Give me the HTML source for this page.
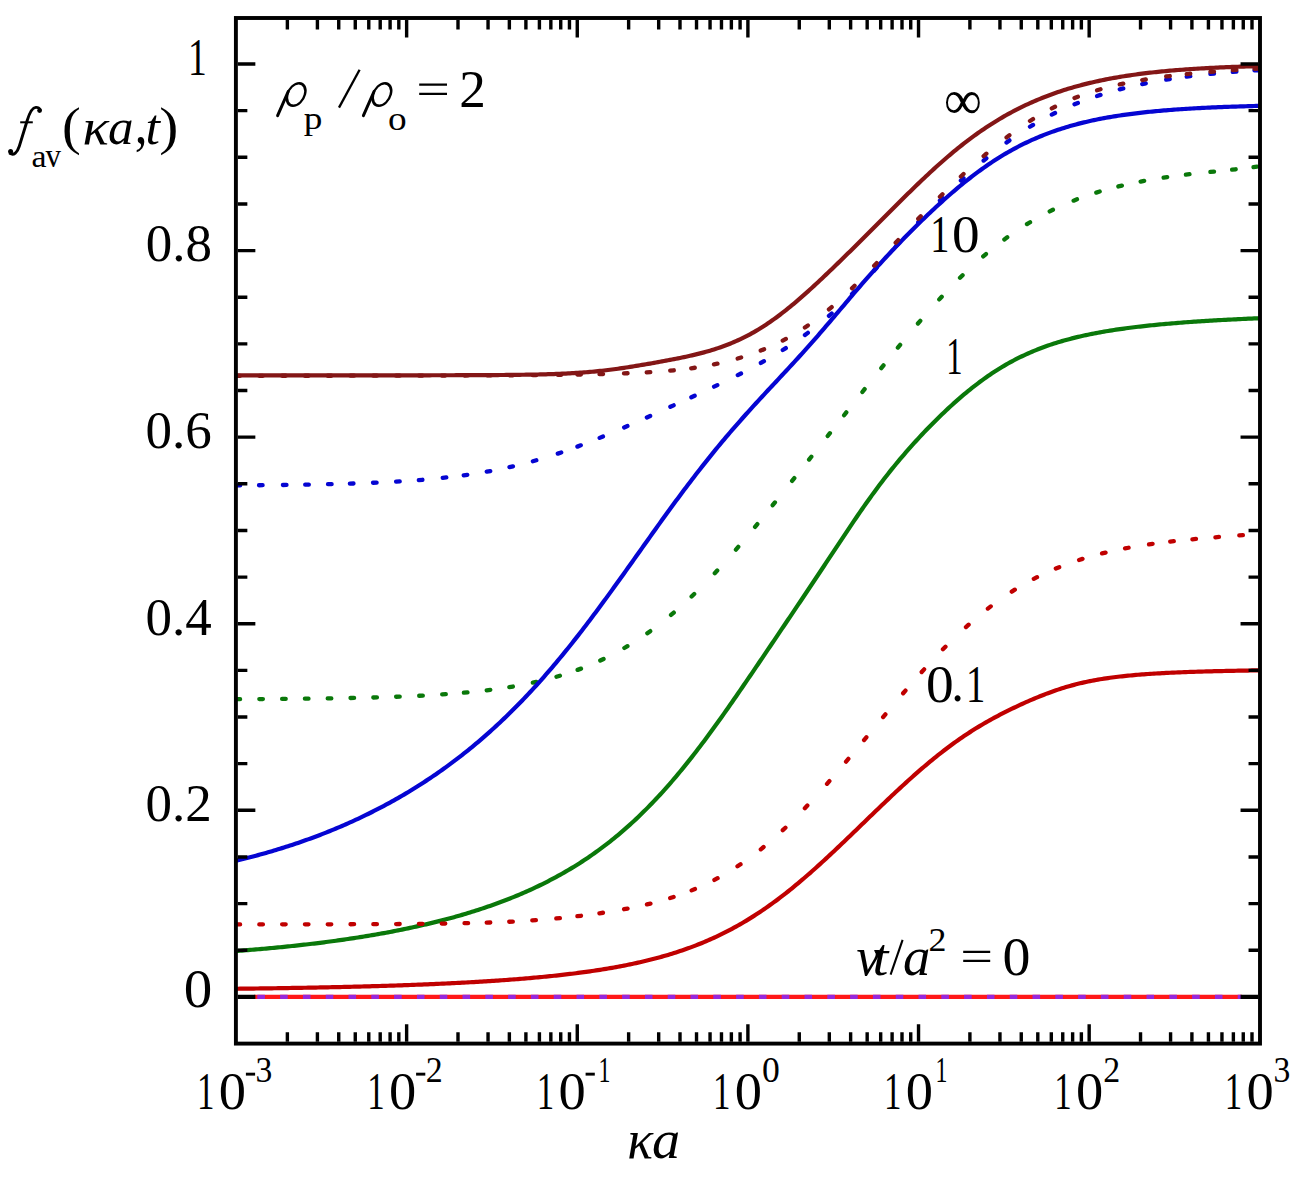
<!DOCTYPE html>
<html><head><meta charset="utf-8"><style>
html,body{margin:0;padding:0;background:#fff;width:1298px;height:1182px;overflow:hidden}
svg{display:block}
text{font-family:"Liberation Serif",serif}
</style></head><body>
<svg width="1298" height="1182" viewBox="0 0 1298 1182">
<rect width="1298" height="1182" fill="#fff"/>
<path d="M236.0 951.05 L238.0 950.90 L240.0 950.74 L242.0 950.59 L244.0 950.43 L246.0 950.27 L248.0 950.11 L250.0 949.95 L252.0 949.78 L254.0 949.62 L256.0 949.45 L258.0 949.28 L260.0 949.10 L262.0 948.93 L264.0 948.75 L266.0 948.57 L268.0 948.39 L270.0 948.20 L272.0 948.02 L274.0 947.83 L276.0 947.64 L278.0 947.45 L280.0 947.25 L282.0 947.05 L284.0 946.85 L286.0 946.65 L288.0 946.44 L290.0 946.24 L292.0 946.03 L294.0 945.81 L296.0 945.60 L298.0 945.38 L300.0 945.16 L302.0 944.94 L304.0 944.71 L306.0 944.48 L308.0 944.25 L310.0 944.02 L312.0 943.78 L314.0 943.54 L316.0 943.30 L318.0 943.05 L320.0 942.80 L322.0 942.55 L324.0 942.30 L326.0 942.04 L328.0 941.78 L330.0 941.52 L332.0 941.25 L334.0 940.98 L336.0 940.71 L338.0 940.43 L340.0 940.15 L342.0 939.87 L344.0 939.58 L346.0 939.29 L348.0 939.00 L350.0 938.70 L352.0 938.40 L354.0 938.09 L356.0 937.79 L358.0 937.47 L360.0 937.16 L362.0 936.84 L364.0 936.52 L366.0 936.19 L368.0 935.86 L370.0 935.53 L372.0 935.19 L374.0 934.84 L376.0 934.50 L378.0 934.15 L380.0 933.79 L382.0 933.43 L384.0 933.07 L386.0 932.70 L388.0 932.33 L390.0 931.95 L392.0 931.57 L394.0 931.18 L396.0 930.79 L398.0 930.40 L400.0 930.00 L402.0 929.59 L404.0 929.18 L406.0 928.77 L408.0 928.35 L410.0 927.92 L412.0 927.49 L414.0 927.06 L416.0 926.62 L418.0 926.17 L420.0 925.72 L422.0 925.27 L424.0 924.80 L426.0 924.34 L428.0 923.86 L430.0 923.38 L432.0 922.90 L434.0 922.41 L436.0 921.91 L438.0 921.41 L440.0 920.90 L442.0 920.39 L444.0 919.86 L446.0 919.34 L448.0 918.80 L450.0 918.26 L452.0 917.71 L454.0 917.16 L456.0 916.60 L458.0 916.03 L460.0 915.46 L462.0 914.87 L464.0 914.28 L466.0 913.69 L468.0 913.08 L470.0 912.47 L472.0 911.85 L474.0 911.22 L476.0 910.59 L478.0 909.94 L480.0 909.29 L482.0 908.63 L484.0 907.96 L486.0 907.29 L488.0 906.60 L490.0 905.91 L492.0 905.21 L494.0 904.49 L496.0 903.77 L498.0 903.04 L500.0 902.30 L502.0 901.55 L504.0 900.79 L506.0 900.02 L508.0 899.24 L510.0 898.45 L512.0 897.65 L514.0 896.84 L516.0 896.02 L518.0 895.19 L520.0 894.35 L522.0 893.49 L524.0 892.62 L526.0 891.75 L528.0 890.86 L530.0 889.96 L532.0 889.04 L534.0 888.12 L536.0 887.18 L538.0 886.23 L540.0 885.26 L542.0 884.28 L544.0 883.29 L546.0 882.29 L548.0 881.27 L550.0 880.24 L552.0 879.19 L554.0 878.13 L556.0 877.05 L558.0 875.96 L560.0 874.86 L562.0 873.73 L564.0 872.60 L566.0 871.44 L568.0 870.27 L570.0 869.09 L572.0 867.89 L574.0 866.67 L576.0 865.43 L578.0 864.18 L580.0 862.90 L582.0 861.62 L584.0 860.31 L586.0 858.98 L588.0 857.64 L590.0 856.27 L592.0 854.89 L594.0 853.49 L596.0 852.06 L598.0 850.62 L600.0 849.16 L602.0 847.67 L604.0 846.17 L606.0 844.65 L608.0 843.10 L610.0 841.53 L612.0 839.94 L614.0 838.33 L616.0 836.70 L618.0 835.04 L620.0 833.36 L622.0 831.66 L624.0 829.93 L626.0 828.18 L628.0 826.41 L630.0 824.62 L632.0 822.80 L634.0 820.95 L636.0 819.09 L638.0 817.20 L640.0 815.28 L642.0 813.34 L644.0 811.37 L646.0 809.38 L648.0 807.37 L650.0 805.33 L652.0 803.26 L654.0 801.17 L656.0 799.06 L658.0 796.92 L660.0 794.76 L662.0 792.57 L664.0 790.35 L666.0 788.12 L668.0 785.85 L670.0 783.56 L672.0 781.25 L674.0 778.92 L676.0 776.56 L678.0 774.17 L680.0 771.76 L682.0 769.33 L684.0 766.88 L686.0 764.40 L688.0 761.91 L690.0 759.38 L692.0 756.84 L694.0 754.28 L696.0 751.69 L698.0 749.09 L700.0 746.46 L702.0 743.82 L704.0 741.16 L706.0 738.47 L708.0 735.77 L710.0 733.06 L712.0 730.32 L714.0 727.57 L716.0 724.81 L718.0 722.03 L720.0 719.23 L722.0 716.42 L724.0 713.60 L726.0 710.77 L728.0 707.92 L730.0 705.06 L732.0 702.19 L734.0 699.32 L736.0 696.43 L738.0 693.53 L740.0 690.63 L742.0 687.72 L744.0 684.80 L746.0 681.87 L748.0 678.94 L750.0 676.01 L752.0 673.07 L754.0 670.12 L756.0 667.18 L758.0 664.23 L760.0 661.27 L762.0 658.32 L764.0 655.36 L766.0 652.40 L768.0 649.44 L770.0 646.48 L772.0 643.52 L774.0 640.55 L776.0 637.59 L778.0 634.62 L780.0 631.66 L782.0 628.69 L784.0 625.73 L786.0 622.76 L788.0 619.79 L790.0 616.82 L792.0 613.85 L794.0 610.88 L796.0 607.91 L798.0 604.93 L800.0 601.96 L802.0 598.98 L804.0 595.99 L806.0 593.01 L808.0 590.02 L810.0 587.03 L812.0 584.03 L814.0 581.03 L816.0 578.03 L818.0 575.02 L820.0 572.01 L822.0 569.00 L824.0 565.98 L826.0 562.96 L828.0 559.94 L830.0 556.92 L832.0 553.89 L834.0 550.87 L836.0 547.85 L838.0 544.83 L840.0 541.81 L842.0 538.80 L844.0 535.79 L846.0 532.79 L848.0 529.80 L850.0 526.82 L852.0 523.85 L854.0 520.89 L856.0 517.95 L858.0 515.03 L860.0 512.12 L862.0 509.23 L864.0 506.37 L866.0 503.53 L868.0 500.71 L870.0 497.91 L872.0 495.14 L874.0 492.39 L876.0 489.68 L878.0 486.98 L880.0 484.32 L882.0 481.69 L884.0 479.08 L886.0 476.50 L888.0 473.95 L890.0 471.43 L892.0 468.93 L894.0 466.46 L896.0 464.02 L898.0 461.61 L900.0 459.22 L902.0 456.86 L904.0 454.52 L906.0 452.20 L908.0 449.92 L910.0 447.65 L912.0 445.41 L914.0 443.19 L916.0 440.99 L918.0 438.81 L920.0 436.66 L922.0 434.53 L924.0 432.41 L926.0 430.32 L928.0 428.25 L930.0 426.20 L932.0 424.17 L934.0 422.16 L936.0 420.16 L938.0 418.19 L940.0 416.24 L942.0 414.31 L944.0 412.40 L946.0 410.51 L948.0 408.64 L950.0 406.79 L952.0 404.97 L954.0 403.16 L956.0 401.38 L958.0 399.62 L960.0 397.88 L962.0 396.16 L964.0 394.47 L966.0 392.80 L968.0 391.16 L970.0 389.53 L972.0 387.94 L974.0 386.37 L976.0 384.82 L978.0 383.30 L980.0 381.80 L982.0 380.33 L984.0 378.88 L986.0 377.46 L988.0 376.07 L990.0 374.70 L992.0 373.35 L994.0 372.04 L996.0 370.74 L998.0 369.48 L1000.0 368.24 L1002.0 367.02 L1004.0 365.83 L1006.0 364.67 L1008.0 363.53 L1010.0 362.42 L1012.0 361.33 L1014.0 360.26 L1016.0 359.22 L1018.0 358.21 L1020.0 357.21 L1022.0 356.24 L1024.0 355.30 L1026.0 354.37 L1028.0 353.47 L1030.0 352.59 L1032.0 351.73 L1034.0 350.89 L1036.0 350.07 L1038.0 349.27 L1040.0 348.49 L1042.0 347.74 L1044.0 347.00 L1046.0 346.27 L1048.0 345.57 L1050.0 344.88 L1052.0 344.22 L1054.0 343.56 L1056.0 342.93 L1058.0 342.31 L1060.0 341.71 L1062.0 341.12 L1064.0 340.54 L1066.0 339.98 L1068.0 339.44 L1070.0 338.91 L1072.0 338.39 L1074.0 337.88 L1076.0 337.39 L1078.0 336.91 L1080.0 336.44 L1082.0 335.99 L1084.0 335.54 L1086.0 335.11 L1088.0 334.68 L1090.0 334.27 L1092.0 333.86 L1094.0 333.47 L1096.0 333.09 L1098.0 332.71 L1100.0 332.34 L1102.0 331.99 L1104.0 331.64 L1106.0 331.29 L1108.0 330.96 L1110.0 330.64 L1112.0 330.32 L1114.0 330.01 L1116.0 329.70 L1118.0 329.41 L1120.0 329.12 L1122.0 328.83 L1124.0 328.56 L1126.0 328.28 L1128.0 328.02 L1130.0 327.76 L1132.0 327.50 L1134.0 327.26 L1136.0 327.01 L1138.0 326.77 L1140.0 326.54 L1142.0 326.31 L1144.0 326.09 L1146.0 325.87 L1148.0 325.65 L1150.0 325.44 L1152.0 325.24 L1154.0 325.04 L1156.0 324.84 L1158.0 324.64 L1160.0 324.45 L1162.0 324.27 L1164.0 324.08 L1166.0 323.90 L1168.0 323.73 L1170.0 323.56 L1172.0 323.39 L1174.0 323.22 L1176.0 323.06 L1178.0 322.90 L1180.0 322.74 L1182.0 322.58 L1184.0 322.43 L1186.0 322.28 L1188.0 322.14 L1190.0 321.99 L1192.0 321.85 L1194.0 321.71 L1196.0 321.58 L1198.0 321.44 L1200.0 321.31 L1202.0 321.18 L1204.0 321.05 L1206.0 320.93 L1208.0 320.81 L1210.0 320.68 L1212.0 320.56 L1214.0 320.45 L1216.0 320.33 L1218.0 320.22 L1220.0 320.11 L1222.0 320.00 L1224.0 319.89 L1226.0 319.78 L1228.0 319.68 L1230.0 319.58 L1232.0 319.48 L1234.0 319.38 L1236.0 319.28 L1238.0 319.18 L1240.0 319.09 L1242.0 318.99 L1244.0 318.90 L1246.0 318.81 L1248.0 318.72 L1250.0 318.63 L1252.0 318.54 L1254.0 318.46 L1256.0 318.37 L1258.0 318.29 L1259.8 318.22" stroke="#0a780a" stroke-width="4.2" fill="none" stroke-linejoin="round"/>
<path d="M236.0 988.75 L238.0 988.73 L240.0 988.70 L242.0 988.68 L244.0 988.65 L246.0 988.63 L248.0 988.61 L250.0 988.58 L252.0 988.56 L254.0 988.53 L256.0 988.50 L258.0 988.48 L260.0 988.45 L262.0 988.42 L264.0 988.40 L266.0 988.37 L268.0 988.34 L270.0 988.31 L272.0 988.28 L274.0 988.26 L276.0 988.23 L278.0 988.20 L280.0 988.17 L282.0 988.13 L284.0 988.10 L286.0 988.07 L288.0 988.04 L290.0 988.01 L292.0 987.97 L294.0 987.94 L296.0 987.91 L298.0 987.87 L300.0 987.84 L302.0 987.80 L304.0 987.77 L306.0 987.73 L308.0 987.69 L310.0 987.66 L312.0 987.62 L314.0 987.58 L316.0 987.54 L318.0 987.50 L320.0 987.46 L322.0 987.42 L324.0 987.38 L326.0 987.34 L328.0 987.30 L330.0 987.26 L332.0 987.21 L334.0 987.17 L336.0 987.13 L338.0 987.08 L340.0 987.04 L342.0 986.99 L344.0 986.94 L346.0 986.90 L348.0 986.85 L350.0 986.80 L352.0 986.75 L354.0 986.70 L356.0 986.65 L358.0 986.60 L360.0 986.55 L362.0 986.49 L364.0 986.44 L366.0 986.39 L368.0 986.33 L370.0 986.28 L372.0 986.22 L374.0 986.16 L376.0 986.11 L378.0 986.05 L380.0 985.99 L382.0 985.93 L384.0 985.87 L386.0 985.80 L388.0 985.74 L390.0 985.68 L392.0 985.61 L394.0 985.55 L396.0 985.48 L398.0 985.41 L400.0 985.35 L402.0 985.28 L404.0 985.21 L406.0 985.14 L408.0 985.07 L410.0 984.99 L412.0 984.92 L414.0 984.84 L416.0 984.77 L418.0 984.69 L420.0 984.61 L422.0 984.53 L424.0 984.45 L426.0 984.37 L428.0 984.29 L430.0 984.21 L432.0 984.12 L434.0 984.04 L436.0 983.95 L438.0 983.86 L440.0 983.77 L442.0 983.68 L444.0 983.59 L446.0 983.49 L448.0 983.40 L450.0 983.30 L452.0 983.21 L454.0 983.11 L456.0 983.01 L458.0 982.91 L460.0 982.80 L462.0 982.70 L464.0 982.59 L466.0 982.49 L468.0 982.38 L470.0 982.27 L472.0 982.15 L474.0 982.04 L476.0 981.92 L478.0 981.81 L480.0 981.69 L482.0 981.57 L484.0 981.45 L486.0 981.32 L488.0 981.20 L490.0 981.07 L492.0 980.94 L494.0 980.81 L496.0 980.67 L498.0 980.54 L500.0 980.40 L502.0 980.26 L504.0 980.12 L506.0 979.97 L508.0 979.83 L510.0 979.68 L512.0 979.53 L514.0 979.38 L516.0 979.22 L518.0 979.06 L520.0 978.90 L522.0 978.74 L524.0 978.58 L526.0 978.41 L528.0 978.24 L530.0 978.06 L532.0 977.89 L534.0 977.71 L536.0 977.53 L538.0 977.34 L540.0 977.16 L542.0 976.97 L544.0 976.77 L546.0 976.58 L548.0 976.38 L550.0 976.17 L552.0 975.97 L554.0 975.76 L556.0 975.55 L558.0 975.33 L560.0 975.11 L562.0 974.88 L564.0 974.66 L566.0 974.42 L568.0 974.19 L570.0 973.95 L572.0 973.71 L574.0 973.46 L576.0 973.21 L578.0 972.95 L580.0 972.69 L582.0 972.42 L584.0 972.15 L586.0 971.88 L588.0 971.60 L590.0 971.31 L592.0 971.02 L594.0 970.73 L596.0 970.43 L598.0 970.12 L600.0 969.81 L602.0 969.49 L604.0 969.17 L606.0 968.84 L608.0 968.50 L610.0 968.16 L612.0 967.82 L614.0 967.46 L616.0 967.10 L618.0 966.74 L620.0 966.36 L622.0 965.98 L624.0 965.59 L626.0 965.20 L628.0 964.79 L630.0 964.38 L632.0 963.97 L634.0 963.54 L636.0 963.11 L638.0 962.66 L640.0 962.21 L642.0 961.75 L644.0 961.28 L646.0 960.81 L648.0 960.32 L650.0 959.82 L652.0 959.32 L654.0 958.80 L656.0 958.28 L658.0 957.74 L660.0 957.19 L662.0 956.64 L664.0 956.07 L666.0 955.49 L668.0 954.90 L670.0 954.30 L672.0 953.69 L674.0 953.06 L676.0 952.43 L678.0 951.78 L680.0 951.11 L682.0 950.44 L684.0 949.75 L686.0 949.05 L688.0 948.34 L690.0 947.61 L692.0 946.87 L694.0 946.11 L696.0 945.34 L698.0 944.56 L700.0 943.76 L702.0 942.94 L704.0 942.11 L706.0 941.27 L708.0 940.41 L710.0 939.53 L712.0 938.64 L714.0 937.73 L716.0 936.81 L718.0 935.86 L720.0 934.91 L722.0 933.93 L724.0 932.94 L726.0 931.93 L728.0 930.90 L730.0 929.85 L732.0 928.79 L734.0 927.71 L736.0 926.61 L738.0 925.49 L740.0 924.35 L742.0 923.20 L744.0 922.03 L746.0 920.83 L748.0 919.62 L750.0 918.39 L752.0 917.14 L754.0 915.88 L756.0 914.59 L758.0 913.28 L760.0 911.96 L762.0 910.62 L764.0 909.26 L766.0 907.87 L768.0 906.48 L770.0 905.06 L772.0 903.62 L774.0 902.17 L776.0 900.69 L778.0 899.20 L780.0 897.69 L782.0 896.16 L784.0 894.62 L786.0 893.06 L788.0 891.48 L790.0 889.88 L792.0 888.27 L794.0 886.64 L796.0 884.99 L798.0 883.33 L800.0 881.65 L802.0 879.96 L804.0 878.25 L806.0 876.53 L808.0 874.79 L810.0 873.05 L812.0 871.28 L814.0 869.51 L816.0 867.72 L818.0 865.92 L820.0 864.11 L822.0 862.29 L824.0 860.46 L826.0 858.62 L828.0 856.77 L830.0 854.91 L832.0 853.04 L834.0 851.16 L836.0 849.28 L838.0 847.39 L840.0 845.49 L842.0 843.58 L844.0 841.68 L846.0 839.76 L848.0 837.84 L850.0 835.92 L852.0 834.00 L854.0 832.07 L856.0 830.14 L858.0 828.21 L860.0 826.27 L862.0 824.34 L864.0 822.41 L866.0 820.47 L868.0 818.54 L870.0 816.61 L872.0 814.68 L874.0 812.75 L876.0 810.83 L878.0 808.90 L880.0 806.99 L882.0 805.07 L884.0 803.16 L886.0 801.26 L888.0 799.36 L890.0 797.47 L892.0 795.59 L894.0 793.71 L896.0 791.84 L898.0 789.98 L900.0 788.13 L902.0 786.28 L904.0 784.45 L906.0 782.62 L908.0 780.81 L910.0 779.01 L912.0 777.21 L914.0 775.44 L916.0 773.67 L918.0 771.91 L920.0 770.17 L922.0 768.45 L924.0 766.74 L926.0 765.04 L928.0 763.36 L930.0 761.69 L932.0 760.04 L934.0 758.41 L936.0 756.79 L938.0 755.19 L940.0 753.61 L942.0 752.04 L944.0 750.50 L946.0 748.97 L948.0 747.46 L950.0 745.97 L952.0 744.50 L954.0 743.05 L956.0 741.61 L958.0 740.20 L960.0 738.81 L962.0 737.43 L964.0 736.08 L966.0 734.74 L968.0 733.42 L970.0 732.12 L972.0 730.84 L974.0 729.58 L976.0 728.34 L978.0 727.12 L980.0 725.91 L982.0 724.72 L984.0 723.55 L986.0 722.39 L988.0 721.25 L990.0 720.13 L992.0 719.02 L994.0 717.93 L996.0 716.85 L998.0 715.78 L1000.0 714.73 L1002.0 713.70 L1004.0 712.67 L1006.0 711.66 L1008.0 710.66 L1010.0 709.68 L1012.0 708.70 L1014.0 707.74 L1016.0 706.79 L1018.0 705.84 L1020.0 704.92 L1022.0 704.00 L1024.0 703.09 L1026.0 702.19 L1028.0 701.31 L1030.0 700.44 L1032.0 699.58 L1034.0 698.73 L1036.0 697.89 L1038.0 697.07 L1040.0 696.26 L1042.0 695.46 L1044.0 694.68 L1046.0 693.91 L1048.0 693.16 L1050.0 692.42 L1052.0 691.70 L1054.0 690.99 L1056.0 690.30 L1058.0 689.63 L1060.0 688.97 L1062.0 688.33 L1064.0 687.71 L1066.0 687.10 L1068.0 686.51 L1070.0 685.94 L1072.0 685.39 L1074.0 684.85 L1076.0 684.33 L1078.0 683.82 L1080.0 683.33 L1082.0 682.86 L1084.0 682.41 L1086.0 681.97 L1088.0 681.54 L1090.0 681.13 L1092.0 680.74 L1094.0 680.36 L1096.0 679.99 L1098.0 679.64 L1100.0 679.30 L1102.0 678.97 L1104.0 678.66 L1106.0 678.35 L1108.0 678.06 L1110.0 677.78 L1112.0 677.51 L1114.0 677.25 L1116.0 677.00 L1118.0 676.76 L1120.0 676.52 L1122.0 676.30 L1124.0 676.08 L1126.0 675.88 L1128.0 675.68 L1130.0 675.48 L1132.0 675.30 L1134.0 675.12 L1136.0 674.94 L1138.0 674.78 L1140.0 674.62 L1142.0 674.46 L1144.0 674.31 L1146.0 674.17 L1148.0 674.03 L1150.0 673.89 L1152.0 673.76 L1154.0 673.63 L1156.0 673.51 L1158.0 673.39 L1160.0 673.28 L1162.0 673.17 L1164.0 673.06 L1166.0 672.96 L1168.0 672.86 L1170.0 672.76 L1172.0 672.67 L1174.0 672.58 L1176.0 672.49 L1178.0 672.40 L1180.0 672.32 L1182.0 672.24 L1184.0 672.16 L1186.0 672.09 L1188.0 672.01 L1190.0 671.94 L1192.0 671.87 L1194.0 671.80 L1196.0 671.74 L1198.0 671.67 L1200.0 671.61 L1202.0 671.55 L1204.0 671.49 L1206.0 671.44 L1208.0 671.38 L1210.0 671.33 L1212.0 671.28 L1214.0 671.22 L1216.0 671.17 L1218.0 671.13 L1220.0 671.08 L1222.0 671.03 L1224.0 670.99 L1226.0 670.95 L1228.0 670.90 L1230.0 670.86 L1232.0 670.82 L1234.0 670.78 L1236.0 670.74 L1238.0 670.71 L1240.0 670.67 L1242.0 670.63 L1244.0 670.60 L1246.0 670.57 L1248.0 670.53 L1250.0 670.50 L1252.0 670.47 L1254.0 670.44 L1256.0 670.41 L1258.0 670.38 L1259.8 670.35" stroke="#c00000" stroke-width="4.2" fill="none" stroke-linejoin="round"/>
<path d="M236.50 924.40 L240.10 924.40 M259.30 924.39 L262.90 924.38 M282.10 924.36 L285.70 924.36 M304.90 924.33 L308.50 924.33 M327.70 924.29 L331.30 924.29 M350.50 924.23 L354.10 924.22 M373.30 924.15 L376.90 924.13 M396.10 924.03 L399.70 924.00 M418.90 923.85 L422.50 923.81 M441.70 923.58 L445.30 923.53 M464.50 923.19 L468.10 923.12 M486.70 922.62 L490.30 922.51 M509.20 921.76 L512.80 921.58 M532.30 920.43 L535.90 920.18 M556.31 918.46 L559.89 918.11 M577.41 916.19 L580.99 915.76 M599.42 913.27 L602.98 912.75 M624.03 909.23 L627.57 908.57 M646.95 904.42 L650.45 903.57 M670.19 898.05 L673.61 896.95 M691.64 890.38 L694.96 889.01 M714.41 879.88 L717.59 878.19 M737.50 866.30 L740.50 864.31 M760.80 849.30 L763.60 847.03 M782.79 830.16 L785.41 827.69 M804.86 808.17 L807.34 805.56 M827.02 783.83 L829.38 781.12 M846.04 761.64 L848.36 758.89 M864.05 740.04 L866.35 737.26 M883.10 717.04 L885.40 714.28 M903.13 693.26 L905.47 690.53 M921.69 672.06 L924.11 669.38 M942.94 649.32 L945.46 646.75 M965.96 627.08 L968.64 624.67 M987.87 608.60 L990.73 606.40 M1011.78 591.62 L1014.82 589.69 M1033.80 578.82 L1037.00 577.18 M1055.83 568.51 L1059.17 567.14 M1079.08 559.95 L1082.52 558.86 M1102.05 553.42 L1105.55 552.57 M1125.03 548.41 L1128.57 547.75 M1149.02 544.40 L1152.58 543.89 M1170.21 541.63 L1173.79 541.22 M1192.41 539.29 L1195.99 538.95 M1215.41 537.27 L1218.99 536.98 M1239.30 535.43 L1242.90 535.17" stroke="#c00000" stroke-width="4.3" fill="none" stroke-linecap="round"/>
<path d="M236.50 699.17 L240.10 699.15 M259.30 699.06 L262.90 699.04 M282.10 698.90 L285.70 698.87 M304.90 698.69 L308.50 698.65 M327.70 698.41 L331.30 698.36 M350.50 698.02 L354.10 697.95 M373.30 697.49 L376.90 697.39 M396.10 696.77 L399.70 696.63 M419.20 695.77 L422.80 695.59 M442.20 694.42 L445.80 694.17 M463.91 692.71 L467.49 692.38 M486.71 690.31 L490.29 689.86 M509.32 687.11 L512.88 686.52 M532.84 682.68 L536.36 681.90 M556.47 676.75 L559.93 675.74 M577.61 669.88 L580.99 668.63 M600.27 660.54 L603.53 659.01 M624.35 648.00 L627.45 646.17 M647.34 633.22 L650.26 631.13 M671.03 614.94 L673.77 612.61 M691.60 596.55 L694.20 594.06 M714.77 573.17 L717.23 570.54 M735.93 549.62 L738.27 546.89 M755.06 526.89 L757.34 524.11 M772.67 505.21 L774.93 502.41 M792.08 480.94 L794.32 478.13 M809.08 459.54 L811.32 456.72 M827.68 436.02 L829.92 433.19 M844.09 415.21 L846.31 412.38 M862.38 391.97 L864.62 389.14 M881.28 368.14 L883.52 365.33 M897.86 347.58 L900.14 344.79 M917.93 323.51 L920.27 320.78 M939.28 299.37 L941.72 296.72 M960.01 277.83 L962.59 275.30 M983.23 256.35 L985.97 254.01 M1004.35 239.43 L1007.25 237.31 M1026.96 224.09 L1030.04 222.22 M1049.69 211.39 L1052.91 209.80 M1073.62 200.65 L1076.98 199.34 M1096.28 192.62 L1099.72 191.56 M1118.35 186.45 L1121.85 185.60 M1140.63 181.56 L1144.17 180.89 M1163.62 177.64 L1167.18 177.11 M1185.91 174.63 L1189.49 174.20 M1210.41 171.92 L1213.99 171.55 M1232.11 169.67 L1235.69 169.28 M1253.52 167.08 L1257.08 166.56" stroke="#0a780a" stroke-width="4.3" fill="none" stroke-linecap="round"/>
<path d="M236.0 860.79 L238.0 860.31 L240.0 859.82 L242.0 859.32 L244.0 858.82 L246.0 858.31 L248.0 857.80 L250.0 857.28 L252.0 856.75 L254.0 856.22 L256.0 855.68 L258.0 855.14 L260.0 854.59 L262.0 854.03 L264.0 853.47 L266.0 852.90 L268.0 852.33 L270.0 851.75 L272.0 851.16 L274.0 850.56 L276.0 849.96 L278.0 849.35 L280.0 848.74 L282.0 848.12 L284.0 847.49 L286.0 846.85 L288.0 846.21 L290.0 845.56 L292.0 844.90 L294.0 844.24 L296.0 843.57 L298.0 842.89 L300.0 842.20 L302.0 841.51 L304.0 840.81 L306.0 840.10 L308.0 839.38 L310.0 838.66 L312.0 837.93 L314.0 837.19 L316.0 836.44 L318.0 835.68 L320.0 834.92 L322.0 834.15 L324.0 833.37 L326.0 832.58 L328.0 831.78 L330.0 830.98 L332.0 830.16 L334.0 829.34 L336.0 828.51 L338.0 827.67 L340.0 826.82 L342.0 825.97 L344.0 825.10 L346.0 824.23 L348.0 823.34 L350.0 822.45 L352.0 821.55 L354.0 820.64 L356.0 819.71 L358.0 818.78 L360.0 817.84 L362.0 816.89 L364.0 815.93 L366.0 814.97 L368.0 813.99 L370.0 813.00 L372.0 812.00 L374.0 810.99 L376.0 809.97 L378.0 808.94 L380.0 807.90 L382.0 806.85 L384.0 805.79 L386.0 804.72 L388.0 803.63 L390.0 802.54 L392.0 801.44 L394.0 800.32 L396.0 799.19 L398.0 798.06 L400.0 796.91 L402.0 795.74 L404.0 794.57 L406.0 793.39 L408.0 792.19 L410.0 790.99 L412.0 789.77 L414.0 788.53 L416.0 787.29 L418.0 786.03 L420.0 784.76 L422.0 783.48 L424.0 782.19 L426.0 780.88 L428.0 779.56 L430.0 778.23 L432.0 776.88 L434.0 775.53 L436.0 774.15 L438.0 772.77 L440.0 771.37 L442.0 769.95 L444.0 768.53 L446.0 767.09 L448.0 765.63 L450.0 764.16 L452.0 762.68 L454.0 761.18 L456.0 759.67 L458.0 758.14 L460.0 756.60 L462.0 755.04 L464.0 753.46 L466.0 751.88 L468.0 750.27 L470.0 748.65 L472.0 747.02 L474.0 745.37 L476.0 743.70 L478.0 742.02 L480.0 740.32 L482.0 738.60 L484.0 736.87 L486.0 735.12 L488.0 733.36 L490.0 731.58 L492.0 729.78 L494.0 727.96 L496.0 726.13 L498.0 724.28 L500.0 722.41 L502.0 720.52 L504.0 718.62 L506.0 716.70 L508.0 714.76 L510.0 712.81 L512.0 710.83 L514.0 708.84 L516.0 706.83 L518.0 704.80 L520.0 702.76 L522.0 700.69 L524.0 698.61 L526.0 696.51 L528.0 694.39 L530.0 692.25 L532.0 690.09 L534.0 687.92 L536.0 685.73 L538.0 683.52 L540.0 681.29 L542.0 679.04 L544.0 676.77 L546.0 674.49 L548.0 672.19 L550.0 669.87 L552.0 667.53 L554.0 665.17 L556.0 662.80 L558.0 660.41 L560.0 658.00 L562.0 655.57 L564.0 653.13 L566.0 650.67 L568.0 648.20 L570.0 645.70 L572.0 643.20 L574.0 640.67 L576.0 638.13 L578.0 635.58 L580.0 633.00 L582.0 630.42 L584.0 627.82 L586.0 625.21 L588.0 622.58 L590.0 619.94 L592.0 617.28 L594.0 614.61 L596.0 611.94 L598.0 609.25 L600.0 606.54 L602.0 603.83 L604.0 601.11 L606.0 598.37 L608.0 595.63 L610.0 592.88 L612.0 590.12 L614.0 587.35 L616.0 584.58 L618.0 581.79 L620.0 579.01 L622.0 576.21 L624.0 573.41 L626.0 570.61 L628.0 567.80 L630.0 564.99 L632.0 562.18 L634.0 559.37 L636.0 556.55 L638.0 553.73 L640.0 550.92 L642.0 548.10 L644.0 545.28 L646.0 542.47 L648.0 539.66 L650.0 536.85 L652.0 534.04 L654.0 531.24 L656.0 528.45 L658.0 525.65 L660.0 522.87 L662.0 520.09 L664.0 517.32 L666.0 514.55 L668.0 511.80 L670.0 509.05 L672.0 506.31 L674.0 503.58 L676.0 500.86 L678.0 498.16 L680.0 495.46 L682.0 492.77 L684.0 490.10 L686.0 487.44 L688.0 484.79 L690.0 482.16 L692.0 479.53 L694.0 476.93 L696.0 474.33 L698.0 471.75 L700.0 469.18 L702.0 466.63 L704.0 464.10 L706.0 461.58 L708.0 459.07 L710.0 456.58 L712.0 454.10 L714.0 451.64 L716.0 449.20 L718.0 446.77 L720.0 444.35 L722.0 441.95 L724.0 439.57 L726.0 437.20 L728.0 434.85 L730.0 432.51 L732.0 430.18 L734.0 427.87 L736.0 425.57 L738.0 423.29 L740.0 421.01 L742.0 418.76 L744.0 416.51 L746.0 414.27 L748.0 412.05 L750.0 409.84 L752.0 407.63 L754.0 405.44 L756.0 403.25 L758.0 401.08 L760.0 398.91 L762.0 396.74 L764.0 394.59 L766.0 392.43 L768.0 390.28 L770.0 388.14 L772.0 386.00 L774.0 383.86 L776.0 381.72 L778.0 379.58 L780.0 377.44 L782.0 375.29 L784.0 373.15 L786.0 371.00 L788.0 368.84 L790.0 366.68 L792.0 364.52 L794.0 362.34 L796.0 360.16 L798.0 357.97 L800.0 355.77 L802.0 353.56 L804.0 351.34 L806.0 349.11 L808.0 346.87 L810.0 344.62 L812.0 342.36 L814.0 340.09 L816.0 337.80 L818.0 335.51 L820.0 333.20 L822.0 330.89 L824.0 328.56 L826.0 326.23 L828.0 323.89 L830.0 321.54 L832.0 319.19 L834.0 316.83 L836.0 314.47 L838.0 312.11 L840.0 309.74 L842.0 307.38 L844.0 305.02 L846.0 302.66 L848.0 300.30 L850.0 297.94 L852.0 295.60 L854.0 293.26 L856.0 290.92 L858.0 288.60 L860.0 286.28 L862.0 283.98 L864.0 281.68 L866.0 279.40 L868.0 277.13 L870.0 274.86 L872.0 272.62 L874.0 270.38 L876.0 268.16 L878.0 265.94 L880.0 263.74 L882.0 261.56 L884.0 259.38 L886.0 257.22 L888.0 255.07 L890.0 252.94 L892.0 250.81 L894.0 248.70 L896.0 246.60 L898.0 244.51 L900.0 242.43 L902.0 240.37 L904.0 238.31 L906.0 236.27 L908.0 234.24 L910.0 232.22 L912.0 230.21 L914.0 228.21 L916.0 226.23 L918.0 224.26 L920.0 222.30 L922.0 220.35 L924.0 218.41 L926.0 216.49 L928.0 214.58 L930.0 212.68 L932.0 210.79 L934.0 208.92 L936.0 207.07 L938.0 205.22 L940.0 203.40 L942.0 201.58 L944.0 199.79 L946.0 198.01 L948.0 196.24 L950.0 194.49 L952.0 192.76 L954.0 191.04 L956.0 189.35 L958.0 187.67 L960.0 186.00 L962.0 184.36 L964.0 182.74 L966.0 181.13 L968.0 179.55 L970.0 177.98 L972.0 176.43 L974.0 174.91 L976.0 173.40 L978.0 171.92 L980.0 170.46 L982.0 169.01 L984.0 167.59 L986.0 166.19 L988.0 164.82 L990.0 163.46 L992.0 162.12 L994.0 160.81 L996.0 159.52 L998.0 158.25 L1000.0 157.00 L1002.0 155.78 L1004.0 154.57 L1006.0 153.39 L1008.0 152.23 L1010.0 151.09 L1012.0 149.97 L1014.0 148.88 L1016.0 147.80 L1018.0 146.75 L1020.0 145.72 L1022.0 144.71 L1024.0 143.72 L1026.0 142.75 L1028.0 141.80 L1030.0 140.87 L1032.0 139.96 L1034.0 139.07 L1036.0 138.20 L1038.0 137.34 L1040.0 136.51 L1042.0 135.70 L1044.0 134.90 L1046.0 134.12 L1048.0 133.36 L1050.0 132.62 L1052.0 131.89 L1054.0 131.19 L1056.0 130.49 L1058.0 129.82 L1060.0 129.16 L1062.0 128.52 L1064.0 127.89 L1066.0 127.28 L1068.0 126.68 L1070.0 126.10 L1072.0 125.53 L1074.0 124.97 L1076.0 124.43 L1078.0 123.90 L1080.0 123.39 L1082.0 122.89 L1084.0 122.40 L1086.0 121.92 L1088.0 121.46 L1090.0 121.01 L1092.0 120.57 L1094.0 120.14 L1096.0 119.72 L1098.0 119.31 L1100.0 118.91 L1102.0 118.53 L1104.0 118.15 L1106.0 117.78 L1108.0 117.43 L1110.0 117.08 L1112.0 116.74 L1114.0 116.41 L1116.0 116.09 L1118.0 115.77 L1120.0 115.47 L1122.0 115.17 L1124.0 114.88 L1126.0 114.60 L1128.0 114.33 L1130.0 114.06 L1132.0 113.80 L1134.0 113.55 L1136.0 113.30 L1138.0 113.06 L1140.0 112.83 L1142.0 112.60 L1144.0 112.38 L1146.0 112.16 L1148.0 111.95 L1150.0 111.75 L1152.0 111.55 L1154.0 111.35 L1156.0 111.16 L1158.0 110.98 L1160.0 110.80 L1162.0 110.63 L1164.0 110.46 L1166.0 110.29 L1168.0 110.13 L1170.0 109.97 L1172.0 109.82 L1174.0 109.67 L1176.0 109.53 L1178.0 109.39 L1180.0 109.25 L1182.0 109.12 L1184.0 108.99 L1186.0 108.86 L1188.0 108.73 L1190.0 108.61 L1192.0 108.50 L1194.0 108.38 L1196.0 108.27 L1198.0 108.16 L1200.0 108.05 L1202.0 107.95 L1204.0 107.85 L1206.0 107.75 L1208.0 107.66 L1210.0 107.56 L1212.0 107.47 L1214.0 107.38 L1216.0 107.30 L1218.0 107.21 L1220.0 107.13 L1222.0 107.05 L1224.0 106.97 L1226.0 106.90 L1228.0 106.82 L1230.0 106.75 L1232.0 106.68 L1234.0 106.61 L1236.0 106.54 L1238.0 106.48 L1240.0 106.41 L1242.0 106.35 L1244.0 106.29 L1246.0 106.23 L1248.0 106.17 L1250.0 106.11 L1252.0 106.06 L1254.0 106.01 L1256.0 105.95 L1258.0 105.90 L1259.8 105.86" stroke="#0505d2" stroke-width="4.2" fill="none" stroke-linejoin="round"/>
<path d="M236.0 375.36 L238.0 375.36 L240.0 375.36 L242.0 375.36 L244.0 375.36 L246.0 375.36 L248.0 375.36 L250.0 375.36 L252.0 375.36 L254.0 375.36 L256.0 375.36 L258.0 375.36 L260.0 375.36 L262.0 375.36 L264.0 375.36 L266.0 375.35 L268.0 375.35 L270.0 375.35 L272.0 375.35 L274.0 375.35 L276.0 375.35 L278.0 375.35 L280.0 375.35 L282.0 375.35 L284.0 375.35 L286.0 375.35 L288.0 375.35 L290.0 375.35 L292.0 375.35 L294.0 375.35 L296.0 375.35 L298.0 375.35 L300.0 375.35 L302.0 375.35 L304.0 375.35 L306.0 375.35 L308.0 375.35 L310.0 375.35 L312.0 375.35 L314.0 375.35 L316.0 375.35 L318.0 375.35 L320.0 375.35 L322.0 375.35 L324.0 375.35 L326.0 375.35 L328.0 375.35 L330.0 375.34 L332.0 375.34 L334.0 375.34 L336.0 375.34 L338.0 375.34 L340.0 375.34 L342.0 375.34 L344.0 375.34 L346.0 375.34 L348.0 375.34 L350.0 375.34 L352.0 375.34 L354.0 375.34 L356.0 375.34 L358.0 375.34 L360.0 375.34 L362.0 375.33 L364.0 375.33 L366.0 375.33 L368.0 375.33 L370.0 375.33 L372.0 375.33 L374.0 375.33 L376.0 375.33 L378.0 375.33 L380.0 375.33 L382.0 375.32 L384.0 375.32 L386.0 375.32 L388.0 375.32 L390.0 375.32 L392.0 375.32 L394.0 375.32 L396.0 375.31 L398.0 375.31 L400.0 375.31 L402.0 375.31 L404.0 375.31 L406.0 375.31 L408.0 375.30 L410.0 375.30 L412.0 375.30 L414.0 375.30 L416.0 375.30 L418.0 375.29 L420.0 375.29 L422.0 375.29 L424.0 375.29 L426.0 375.28 L428.0 375.28 L430.0 375.28 L432.0 375.27 L434.0 375.27 L436.0 375.27 L438.0 375.26 L440.0 375.26 L442.0 375.26 L444.0 375.25 L446.0 375.25 L448.0 375.24 L450.0 375.24 L452.0 375.23 L454.0 375.23 L456.0 375.22 L458.0 375.22 L460.0 375.21 L462.0 375.21 L464.0 375.20 L466.0 375.19 L468.0 375.19 L470.0 375.18 L472.0 375.17 L474.0 375.16 L476.0 375.16 L478.0 375.15 L480.0 375.14 L482.0 375.13 L484.0 375.12 L486.0 375.11 L488.0 375.10 L490.0 375.08 L492.0 375.07 L494.0 375.06 L496.0 375.04 L498.0 375.03 L500.0 375.01 L502.0 375.00 L504.0 374.98 L506.0 374.96 L508.0 374.94 L510.0 374.92 L512.0 374.90 L514.0 374.88 L516.0 374.85 L518.0 374.83 L520.0 374.80 L522.0 374.77 L524.0 374.74 L526.0 374.71 L528.0 374.68 L530.0 374.64 L532.0 374.61 L534.0 374.57 L536.0 374.53 L538.0 374.48 L540.0 374.44 L542.0 374.39 L544.0 374.34 L546.0 374.28 L548.0 374.22 L550.0 374.16 L552.0 374.10 L554.0 374.03 L556.0 373.96 L558.0 373.88 L560.0 373.80 L562.0 373.71 L564.0 373.62 L566.0 373.53 L568.0 373.43 L570.0 373.32 L572.0 373.21 L574.0 373.10 L576.0 372.97 L578.0 372.84 L580.0 372.71 L582.0 372.56 L584.0 372.42 L586.0 372.26 L588.0 372.10 L590.0 371.92 L592.0 371.75 L594.0 371.56 L596.0 371.36 L598.0 371.16 L600.0 370.95 L602.0 370.73 L604.0 370.51 L606.0 370.27 L608.0 370.03 L610.0 369.78 L612.0 369.52 L614.0 369.26 L616.0 368.99 L618.0 368.71 L620.0 368.42 L622.0 368.13 L624.0 367.83 L626.0 367.53 L628.0 367.22 L630.0 366.91 L632.0 366.59 L634.0 366.27 L636.0 365.94 L638.0 365.61 L640.0 365.27 L642.0 364.94 L644.0 364.60 L646.0 364.25 L648.0 363.91 L650.0 363.56 L652.0 363.21 L654.0 362.85 L656.0 362.50 L658.0 362.14 L660.0 361.78 L662.0 361.41 L664.0 361.05 L666.0 360.68 L668.0 360.30 L670.0 359.93 L672.0 359.54 L674.0 359.16 L676.0 358.76 L678.0 358.36 L680.0 357.96 L682.0 357.55 L684.0 357.13 L686.0 356.70 L688.0 356.26 L690.0 355.81 L692.0 355.35 L694.0 354.89 L696.0 354.41 L698.0 353.91 L700.0 353.41 L702.0 352.89 L704.0 352.35 L706.0 351.80 L708.0 351.23 L710.0 350.65 L712.0 350.05 L714.0 349.43 L716.0 348.79 L718.0 348.13 L720.0 347.44 L722.0 346.74 L724.0 346.02 L726.0 345.27 L728.0 344.50 L730.0 343.70 L732.0 342.88 L734.0 342.03 L736.0 341.16 L738.0 340.26 L740.0 339.33 L742.0 338.38 L744.0 337.40 L746.0 336.39 L748.0 335.35 L750.0 334.28 L752.0 333.18 L754.0 332.05 L756.0 330.89 L758.0 329.71 L760.0 328.49 L762.0 327.24 L764.0 325.96 L766.0 324.66 L768.0 323.32 L770.0 321.96 L772.0 320.57 L774.0 319.15 L776.0 317.70 L778.0 316.22 L780.0 314.72 L782.0 313.19 L784.0 311.64 L786.0 310.06 L788.0 308.46 L790.0 306.84 L792.0 305.19 L794.0 303.52 L796.0 301.83 L798.0 300.13 L800.0 298.40 L802.0 296.66 L804.0 294.90 L806.0 293.12 L808.0 291.33 L810.0 289.52 L812.0 287.70 L814.0 285.87 L816.0 284.02 L818.0 282.17 L820.0 280.30 L822.0 278.42 L824.0 276.54 L826.0 274.65 L828.0 272.74 L830.0 270.83 L832.0 268.92 L834.0 266.99 L836.0 265.06 L838.0 263.13 L840.0 261.18 L842.0 259.24 L844.0 257.28 L846.0 255.33 L848.0 253.37 L850.0 251.40 L852.0 249.43 L854.0 247.45 L856.0 245.48 L858.0 243.49 L860.0 241.51 L862.0 239.52 L864.0 237.53 L866.0 235.53 L868.0 233.54 L870.0 231.54 L872.0 229.54 L874.0 227.53 L876.0 225.53 L878.0 223.52 L880.0 221.52 L882.0 219.51 L884.0 217.50 L886.0 215.50 L888.0 213.49 L890.0 211.49 L892.0 209.49 L894.0 207.49 L896.0 205.49 L898.0 203.50 L900.0 201.51 L902.0 199.52 L904.0 197.54 L906.0 195.57 L908.0 193.60 L910.0 191.64 L912.0 189.68 L914.0 187.74 L916.0 185.80 L918.0 183.88 L920.0 181.96 L922.0 180.05 L924.0 178.16 L926.0 176.28 L928.0 174.41 L930.0 172.55 L932.0 170.71 L934.0 168.88 L936.0 167.06 L938.0 165.26 L940.0 163.48 L942.0 161.71 L944.0 159.96 L946.0 158.23 L948.0 156.51 L950.0 154.81 L952.0 153.13 L954.0 151.47 L956.0 149.83 L958.0 148.20 L960.0 146.60 L962.0 145.01 L964.0 143.45 L966.0 141.90 L968.0 140.38 L970.0 138.87 L972.0 137.39 L974.0 135.92 L976.0 134.48 L978.0 133.06 L980.0 131.65 L982.0 130.27 L984.0 128.91 L986.0 127.57 L988.0 126.25 L990.0 124.95 L992.0 123.67 L994.0 122.41 L996.0 121.18 L998.0 119.96 L1000.0 118.76 L1002.0 117.58 L1004.0 116.43 L1006.0 115.29 L1008.0 114.17 L1010.0 113.07 L1012.0 112.00 L1014.0 110.94 L1016.0 109.89 L1018.0 108.87 L1020.0 107.87 L1022.0 106.89 L1024.0 105.92 L1026.0 104.97 L1028.0 104.04 L1030.0 103.13 L1032.0 102.23 L1034.0 101.35 L1036.0 100.49 L1038.0 99.65 L1040.0 98.82 L1042.0 98.01 L1044.0 97.22 L1046.0 96.44 L1048.0 95.67 L1050.0 94.93 L1052.0 94.20 L1054.0 93.48 L1056.0 92.78 L1058.0 92.09 L1060.0 91.42 L1062.0 90.76 L1064.0 90.11 L1066.0 89.48 L1068.0 88.86 L1070.0 88.26 L1072.0 87.67 L1074.0 87.09 L1076.0 86.53 L1078.0 85.97 L1080.0 85.43 L1082.0 84.90 L1084.0 84.39 L1086.0 83.88 L1088.0 83.39 L1090.0 82.91 L1092.0 82.44 L1094.0 81.97 L1096.0 81.53 L1098.0 81.09 L1100.0 80.66 L1102.0 80.24 L1104.0 79.83 L1106.0 79.43 L1108.0 79.04 L1110.0 78.66 L1112.0 78.28 L1114.0 77.92 L1116.0 77.57 L1118.0 77.22 L1120.0 76.88 L1122.0 76.55 L1124.0 76.23 L1126.0 75.92 L1128.0 75.61 L1130.0 75.32 L1132.0 75.02 L1134.0 74.74 L1136.0 74.46 L1138.0 74.19 L1140.0 73.93 L1142.0 73.67 L1144.0 73.42 L1146.0 73.18 L1148.0 72.94 L1150.0 72.71 L1152.0 72.48 L1154.0 72.26 L1156.0 72.05 L1158.0 71.84 L1160.0 71.64 L1162.0 71.44 L1164.0 71.25 L1166.0 71.06 L1168.0 70.87 L1170.0 70.70 L1172.0 70.52 L1174.0 70.35 L1176.0 70.19 L1178.0 70.03 L1180.0 69.87 L1182.0 69.72 L1184.0 69.57 L1186.0 69.42 L1188.0 69.28 L1190.0 69.14 L1192.0 69.01 L1194.0 68.88 L1196.0 68.75 L1198.0 68.63 L1200.0 68.51 L1202.0 68.39 L1204.0 68.28 L1206.0 68.17 L1208.0 68.06 L1210.0 67.96 L1212.0 67.85 L1214.0 67.75 L1216.0 67.66 L1218.0 67.56 L1220.0 67.47 L1222.0 67.38 L1224.0 67.30 L1226.0 67.21 L1228.0 67.13 L1230.0 67.05 L1232.0 66.97 L1234.0 66.90 L1236.0 66.82 L1238.0 66.75 L1240.0 66.68 L1242.0 66.61 L1244.0 66.55 L1246.0 66.48 L1248.0 66.42 L1250.0 66.36 L1252.0 66.30 L1254.0 66.24 L1256.0 66.19 L1258.0 66.13 L1259.8 66.08" stroke="#831616" stroke-width="4.2" fill="none" stroke-linejoin="round"/>
<path d="M236.50 485.39 L240.10 485.37 M259.00 485.23 L262.60 485.19 M282.90 484.98 L286.50 484.93 M305.20 484.66 L308.80 484.60 M328.00 484.21 L331.60 484.12 M349.90 483.62 L353.50 483.51 M373.00 482.77 L376.60 482.62 M396.10 481.62 L399.70 481.40 M418.81 480.07 L422.39 479.78 M442.71 477.87 L446.29 477.48 M463.72 475.32 L467.28 474.82 M486.73 471.70 L490.27 471.06 M509.45 467.13 L512.95 466.32 M532.87 461.23 L536.33 460.25 M557.79 453.59 L561.21 452.43 M577.42 446.62 L580.78 445.35 M599.64 437.88 L602.96 436.50 M624.15 427.47 L627.45 426.03 M646.86 417.42 L650.14 415.95 M670.36 406.83 L673.64 405.34 M691.36 397.25 L694.64 395.75 M714.07 386.68 L717.33 385.13 M737.79 375.11 L741.01 373.48 M760.83 362.94 L763.97 361.18 M782.78 350.00 L785.82 348.07 M804.95 335.02 L807.85 332.88 M828.95 315.88 L831.65 313.50 M852.04 294.06 L854.56 291.48 M874.19 270.44 L876.61 267.77 M895.69 246.59 L898.11 243.93 M918.25 222.34 L920.75 219.74 M939.91 200.46 L942.49 197.95 M960.87 180.60 L963.53 178.17 M983.62 160.58 L986.38 158.27 M1006.54 142.50 L1009.46 140.39 M1029.96 126.76 L1033.04 124.90 M1051.79 114.61 L1055.01 113.01 M1074.53 104.27 L1077.87 102.93 M1097.09 95.98 L1100.51 94.88 M1119.76 89.31 L1123.24 88.41 M1142.24 84.04 L1145.76 83.32 M1166.22 79.62 L1169.78 79.06 M1186.71 76.65 L1190.29 76.19 M1210.41 73.94 L1213.99 73.59 M1232.81 71.96 L1236.39 71.68 M1254.50 70.46 L1258.00 70.25" stroke="#0505d2" stroke-width="4.3" fill="none" stroke-linecap="round"/>
<path d="M236.50 375.79 L240.10 375.79 M259.30 375.78 L262.90 375.78 M282.10 375.77 L285.70 375.77 M304.90 375.75 L308.50 375.75 M327.70 375.73 L331.30 375.73 M350.50 375.71 L354.10 375.71 M373.30 375.68 L376.90 375.68 M396.10 375.65 L399.70 375.64 M418.90 375.60 L422.50 375.60 M441.70 375.55 L445.30 375.54 M464.50 375.48 L468.10 375.47 M487.30 375.39 L490.90 375.37 M509.40 375.27 L513.00 375.25 M532.80 375.11 L536.40 375.08 M557.70 374.85 L561.30 374.81 M577.30 374.58 L580.90 374.51 M599.50 374.13 L603.10 374.04 M624.00 373.39 L627.60 373.25 M646.70 372.33 L650.30 372.12 M670.21 370.62 L673.79 370.28 M691.22 368.26 L694.78 367.75 M713.94 364.41 L717.46 363.67 M737.68 358.51 L741.12 357.47 M760.73 350.58 L764.07 349.23 M782.71 340.58 L785.89 338.90 M804.91 327.47 L807.89 325.46 M828.93 309.40 L831.67 307.07 M852.02 288.36 L854.58 285.84 M874.16 265.75 L876.64 263.13 M895.67 242.78 L898.13 240.15 M918.25 218.84 L920.75 216.24 M939.92 196.75 L942.48 194.22 M960.88 176.51 L963.52 174.05 M983.63 156.03 L986.37 153.69 M1006.56 137.38 L1009.44 135.21 M1029.98 120.97 L1033.02 119.05 M1051.79 108.40 L1055.01 106.78 M1074.52 98.08 L1077.88 96.78 M1097.07 90.29 L1100.53 89.28 M1119.74 84.41 L1123.26 83.63 M1142.22 80.01 L1145.78 79.42 M1166.21 76.46 L1169.79 76.01 M1186.71 74.08 L1190.29 73.71 M1210.41 71.86 L1213.99 71.57 M1232.80 70.15 L1236.40 69.90 M1254.50 68.75 L1258.00 68.55" stroke="#831616" stroke-width="4.3" fill="none" stroke-linecap="round"/>
<path d="M254 996.9 L1242 996.9" stroke="#ff1919" stroke-width="4.2" fill="none"/>
<path d="M257.30 996.9 L264.90 996.9 M280.10 996.9 L287.70 996.9 M302.90 996.9 L310.50 996.9 M325.70 996.9 L333.30 996.9 M348.50 996.9 L356.10 996.9 M371.30 996.9 L378.90 996.9 M394.10 996.9 L401.70 996.9 M416.90 996.9 L424.50 996.9 M439.70 996.9 L447.30 996.9 M462.50 996.9 L470.10 996.9 M485.30 996.9 L492.90 996.9 M508.10 996.9 L515.70 996.9 M530.90 996.9 L538.50 996.9 M553.70 996.9 L561.30 996.9 M576.50 996.9 L584.10 996.9 M599.30 996.9 L606.90 996.9 M622.10 996.9 L629.70 996.9 M644.90 996.9 L652.50 996.9 M667.70 996.9 L675.30 996.9 M690.50 996.9 L698.10 996.9 M713.30 996.9 L720.90 996.9 M736.10 996.9 L743.70 996.9 M758.90 996.9 L766.50 996.9 M781.70 996.9 L789.30 996.9 M804.50 996.9 L812.10 996.9 M827.30 996.9 L834.90 996.9 M850.10 996.9 L857.70 996.9 M872.90 996.9 L880.50 996.9 M895.70 996.9 L903.30 996.9 M918.50 996.9 L926.10 996.9 M941.30 996.9 L948.90 996.9 M964.10 996.9 L971.70 996.9 M986.90 996.9 L994.50 996.9 M1009.70 996.9 L1017.30 996.9 M1032.50 996.9 L1040.10 996.9 M1055.30 996.9 L1062.90 996.9 M1078.10 996.9 L1085.70 996.9 M1100.90 996.9 L1108.50 996.9 M1123.70 996.9 L1131.30 996.9 M1146.50 996.9 L1154.10 996.9 M1169.30 996.9 L1176.90 996.9 M1192.10 996.9 L1199.70 996.9 M1214.90 996.9 L1222.50 996.9 M1237.70 996.9 L1241.00 996.9" stroke="#9628dc" stroke-width="4.3" fill="none"/>
<path d="M287.37 1041.6499999999999 V1032.1499999999999 M287.37 19.95 V29.45 M317.41 1041.6499999999999 V1032.1499999999999 M317.41 19.95 V29.45 M338.73 1041.6499999999999 V1032.1499999999999 M338.73 19.95 V29.45 M355.27 1041.6499999999999 V1032.1499999999999 M355.27 19.95 V29.45 M368.78 1041.6499999999999 V1032.1499999999999 M368.78 19.95 V29.45 M380.20 1041.6499999999999 V1032.1499999999999 M380.20 19.95 V29.45 M390.10 1041.6499999999999 V1032.1499999999999 M390.10 19.95 V29.45 M398.83 1041.6499999999999 V1032.1499999999999 M398.83 19.95 V29.45 M406.63 1041.6499999999999 V1024.1499999999999 M406.63 19.95 V37.45 M458.00 1041.6499999999999 V1032.1499999999999 M458.00 19.95 V29.45 M488.05 1041.6499999999999 V1032.1499999999999 M488.05 19.95 V29.45 M509.36 1041.6499999999999 V1032.1499999999999 M509.36 19.95 V29.45 M525.90 1041.6499999999999 V1032.1499999999999 M525.90 19.95 V29.45 M539.41 1041.6499999999999 V1032.1499999999999 M539.41 19.95 V29.45 M550.84 1041.6499999999999 V1032.1499999999999 M550.84 19.95 V29.45 M560.73 1041.6499999999999 V1032.1499999999999 M560.73 19.95 V29.45 M569.46 1041.6499999999999 V1032.1499999999999 M569.46 19.95 V29.45 M577.27 1041.6499999999999 V1024.1499999999999 M577.27 19.95 V37.45 M628.63 1041.6499999999999 V1032.1499999999999 M628.63 19.95 V29.45 M658.68 1041.6499999999999 V1032.1499999999999 M658.68 19.95 V29.45 M680.00 1041.6499999999999 V1032.1499999999999 M680.00 19.95 V29.45 M696.53 1041.6499999999999 V1032.1499999999999 M696.53 19.95 V29.45 M710.05 1041.6499999999999 V1032.1499999999999 M710.05 19.95 V29.45 M721.47 1041.6499999999999 V1032.1499999999999 M721.47 19.95 V29.45 M731.36 1041.6499999999999 V1032.1499999999999 M731.36 19.95 V29.45 M740.09 1041.6499999999999 V1032.1499999999999 M740.09 19.95 V29.45 M747.90 1041.6499999999999 V1024.1499999999999 M747.90 19.95 V37.45 M799.27 1041.6499999999999 V1032.1499999999999 M799.27 19.95 V29.45 M829.31 1041.6499999999999 V1032.1499999999999 M829.31 19.95 V29.45 M850.63 1041.6499999999999 V1032.1499999999999 M850.63 19.95 V29.45 M867.17 1041.6499999999999 V1032.1499999999999 M867.17 19.95 V29.45 M880.68 1041.6499999999999 V1032.1499999999999 M880.68 19.95 V29.45 M892.10 1041.6499999999999 V1032.1499999999999 M892.10 19.95 V29.45 M902.00 1041.6499999999999 V1032.1499999999999 M902.00 19.95 V29.45 M910.73 1041.6499999999999 V1032.1499999999999 M910.73 19.95 V29.45 M918.53 1041.6499999999999 V1024.1499999999999 M918.53 19.95 V37.45 M969.90 1041.6499999999999 V1032.1499999999999 M969.90 19.95 V29.45 M999.95 1041.6499999999999 V1032.1499999999999 M999.95 19.95 V29.45 M1021.26 1041.6499999999999 V1032.1499999999999 M1021.26 19.95 V29.45 M1037.80 1041.6499999999999 V1032.1499999999999 M1037.80 19.95 V29.45 M1051.31 1041.6499999999999 V1032.1499999999999 M1051.31 19.95 V29.45 M1062.74 1041.6499999999999 V1032.1499999999999 M1062.74 19.95 V29.45 M1072.63 1041.6499999999999 V1032.1499999999999 M1072.63 19.95 V29.45 M1081.36 1041.6499999999999 V1032.1499999999999 M1081.36 19.95 V29.45 M1089.17 1041.6499999999999 V1024.1499999999999 M1089.17 19.95 V37.45 M1140.53 1041.6499999999999 V1032.1499999999999 M1140.53 19.95 V29.45 M1170.58 1041.6499999999999 V1032.1499999999999 M1170.58 19.95 V29.45 M1191.90 1041.6499999999999 V1032.1499999999999 M1191.90 19.95 V29.45 M1208.43 1041.6499999999999 V1032.1499999999999 M1208.43 19.95 V29.45 M1221.95 1041.6499999999999 V1032.1499999999999 M1221.95 19.95 V29.45 M1233.37 1041.6499999999999 V1032.1499999999999 M1233.37 19.95 V29.45 M1243.26 1041.6499999999999 V1032.1499999999999 M1243.26 19.95 V29.45 M1251.99 1041.6499999999999 V1032.1499999999999 M1251.99 19.95 V29.45 M237.85 950.25 H247.35 M1258.05 950.25 H1248.55 M237.85 903.61 H247.35 M1258.05 903.61 H1248.55 M237.85 856.96 H247.35 M1258.05 856.96 H1248.55 M237.85 810.32 H255.35 M1258.05 810.32 H1240.55 M237.85 763.67 H247.35 M1258.05 763.67 H1248.55 M237.85 717.03 H247.35 M1258.05 717.03 H1248.55 M237.85 670.38 H247.35 M1258.05 670.38 H1248.55 M237.85 623.74 H255.35 M1258.05 623.74 H1240.55 M237.85 577.10 H247.35 M1258.05 577.10 H1248.55 M237.85 530.45 H247.35 M1258.05 530.45 H1248.55 M237.85 483.80 H247.35 M1258.05 483.80 H1248.55 M237.85 437.16 H255.35 M1258.05 437.16 H1240.55 M237.85 390.51 H247.35 M1258.05 390.51 H1248.55 M237.85 343.87 H247.35 M1258.05 343.87 H1248.55 M237.85 297.23 H247.35 M1258.05 297.23 H1248.55 M237.85 250.58 H255.35 M1258.05 250.58 H1240.55 M237.85 203.93 H247.35 M1258.05 203.93 H1248.55 M237.85 157.29 H247.35 M1258.05 157.29 H1248.55 M237.85 110.64 H247.35 M1258.05 110.64 H1248.55 M237.85 64.00 H255.35 M1258.05 64.00 H1240.55" stroke="#000" stroke-width="3.4" fill="none"/>
<path d="M237.85 996.9 H255.35 M1258.05 996.9 H1240.55" stroke="#000" stroke-width="4.1" fill="none"/>
<rect x="235.9" y="18.0" width="1024.1" height="1025.6" stroke="#000" stroke-width="3.9" fill="none"/>
<g font-family="Liberation Serif" fill="#000" stroke="none">
<text x="145.68" y="261.08" font-size="53">0.8</text>
<text x="145.58" y="447.88" font-size="53">0.6</text>
<text x="145.58" y="634.68" font-size="53">0.4</text>
<text x="145.58" y="821.08" font-size="53">0.2</text>
<text transform="matrix(0.3749 0 0 0.5317 188.10 75.30)" font-size="100">1</text>
<text transform="matrix(0.5710 0 0 0.5453 183.83 1006.87)" font-size="100">0</text>
<text transform="matrix(0.3494 0 0 0.5287 196.93 1109.30)" font-size="100">1</text>
<text transform="matrix(0.5450 0 0 0.5320 218.72 1109.28)" font-size="100">0</text>
<rect x="245.90" y="1072.7" width="9.2" height="2.9" fill="#000"/>
<text transform="matrix(0.3365 0 0 0.3498 255.39 1082.36)" font-size="100">3</text>
<text transform="matrix(0.3494 0 0 0.5287 367.13 1109.30)" font-size="100">1</text>
<text transform="matrix(0.5450 0 0 0.5320 388.92 1109.28)" font-size="100">0</text>
<rect x="416.10" y="1072.7" width="9.2" height="2.9" fill="#000"/>
<text transform="matrix(0.3393 0 0 0.3504 425.71 1082.40)" font-size="100">2</text>
<text transform="matrix(0.3494 0 0 0.5287 536.63 1109.30)" font-size="100">1</text>
<text transform="matrix(0.5450 0 0 0.5320 558.42 1109.28)" font-size="100">0</text>
<rect x="585.60" y="1072.7" width="9.2" height="2.9" fill="#000"/>
<text transform="matrix(0.2386 0 0 0.3484 598.40 1082.40)" font-size="100">1</text>
<text transform="matrix(0.3494 0 0 0.5287 712.93 1109.30)" font-size="100">1</text>
<text transform="matrix(0.5450 0 0 0.5320 734.72 1109.28)" font-size="100">0</text>
<text transform="matrix(0.3563 0 0 0.3482 761.94 1082.36)" font-size="100">0</text>
<text transform="matrix(0.3494 0 0 0.5287 883.93 1109.30)" font-size="100">1</text>
<text transform="matrix(0.5450 0 0 0.5320 905.72 1109.28)" font-size="100">0</text>
<text transform="matrix(0.2386 0 0 0.3484 935.50 1082.40)" font-size="100">1</text>
<text transform="matrix(0.3494 0 0 0.5287 1054.33 1109.30)" font-size="100">1</text>
<text transform="matrix(0.5450 0 0 0.5320 1076.12 1109.28)" font-size="100">0</text>
<text transform="matrix(0.3393 0 0 0.3504 1103.21 1082.40)" font-size="100">2</text>
<text transform="matrix(0.3494 0 0 0.5287 1224.83 1109.30)" font-size="100">1</text>
<text transform="matrix(0.5450 0 0 0.5320 1246.62 1109.28)" font-size="100">0</text>
<text transform="matrix(0.3365 0 0 0.3498 1273.59 1082.36)" font-size="100">3</text>
<text transform="matrix(0.5373 0 0 0.5469 627.13 1157.70)" font-size="100" font-style="italic">κ</text>
<text transform="matrix(0.5640 0 0 0.5427 652.12 1157.64)" font-size="100" font-style="italic">a</text>
<path d="M10.2 153.6 C13.8 155.6 17.2 152.6 19.3 146.2 L27.2 120.5 C29.6 112.6 32.2 107.6 35.8 107.4 C37.8 107.3 39.4 108.2 40.1 109.6" stroke="#000" stroke-width="2.9" fill="none" stroke-linecap="round"/>
<circle cx="10.6" cy="151.6" r="2.5" fill="#000"/><circle cx="39.6" cy="110.6" r="2.4" fill="#000"/>
<path d="M20.2 122.3 H32.8" stroke="#000" stroke-width="2.0" fill="none"/>
<text transform="matrix(0.3392 0 0 0.3257 31.41 166.78)" font-size="100">a</text>
<text transform="matrix(0.3100 0 0 0.3264 45.50 166.78)" font-size="100">v</text>
<text transform="matrix(0.5646 0 0 0.5194 62.02 143.54)" font-size="100">(</text>
<text transform="matrix(0.5505 0 0 0.4967 82.58 143.50)" font-size="100" font-style="italic">κ</text>
<text transform="matrix(0.5108 0 0 0.5032 108.08 143.68)" font-size="100" font-style="italic">a</text>
<text transform="matrix(0.5103 0 0 0.5957 134.66 142.74)" font-size="100">,</text>
<text transform="matrix(0.5199 0 0 0.5098 145.42 143.70)" font-size="100" font-style="italic">t</text>
<text transform="matrix(0.5723 0 0 0.5194 159.16 143.54)" font-size="100">)</text>
<g transform="translate(0.0 0)"><ellipse cx="0" cy="0" rx="8.8" ry="11.3" transform="translate(296.1 94.55) skewX(-14.5)" stroke="#000" stroke-width="2.5" fill="none"/><path d="M288.2 91.5 L277.6 115.6" stroke="#000" stroke-width="3.0" fill="none" stroke-linecap="round"/></g>
<g transform="translate(85.8 0)"><ellipse cx="0" cy="0" rx="8.8" ry="11.3" transform="translate(296.1 94.55) skewX(-14.5)" stroke="#000" stroke-width="2.5" fill="none"/><path d="M288.2 91.5 L277.6 115.6" stroke="#000" stroke-width="3.0" fill="none" stroke-linecap="round"/></g>
<text transform="matrix(0.3732 0 0 0.3245 303.80 128.89)" font-size="100">p</text>
<path d="M339.0 107.6 L359.6 69.8" stroke="#000" stroke-width="2.3" fill="none"/>
<text transform="matrix(0.3728 0 0 0.3472 387.98 129.96)" font-size="100">o</text>
<path d="M419.2 84.6 H447 M419.2 93.9 H447" stroke="#000" stroke-width="2.3" fill="none"/>
<text transform="matrix(0.5313 0 0 0.5316 459.17 107.20)" font-size="100">2</text>
<text transform="matrix(0.5304 0 0 0.5645 944.01 118.70)" font-size="100">∞</text>
<text transform="matrix(0.3835 0 0 0.5332 930.13 252.10)" font-size="100">1</text>
<text transform="matrix(0.5521 0 0 0.5290 951.90 252.08)" font-size="100">0</text>
<text transform="matrix(0.3267 0 0 0.5196 946.23 373.50)" font-size="100">1</text>
<text transform="matrix(0.5545 0 0 0.5379 925.89 701.97)" font-size="100">0</text>
<text transform="matrix(0.5078 0 0 0.5247 951.15 701.46)" font-size="100">.</text>
<text transform="matrix(0.3863 0 0 0.5378 966.10 702.00)" font-size="100">1</text>
<text transform="matrix(0.5277 0 0 0.5419 856.58 975.07)" font-size="100" font-style="italic">ν</text>
<text transform="matrix(0.5711 0 0 0.5273 872.49 975.29)" font-size="100" font-style="italic">t</text>
<path d="M890.6 974.6 L902.6 939.8" stroke="#000" stroke-width="2.1" fill="none"/>
<text transform="matrix(0.5478 0 0 0.5427 902.97 975.04)" font-size="100" font-style="italic">a</text>
<text transform="matrix(0.3592 0 0 0.3338 928.42 951.40)" font-size="100">2</text>
<path d="M963.2 951.9 H990.2 M963.2 960.9 H990.2" stroke="#000" stroke-width="2.3" fill="none"/>
<text transform="matrix(0.5592 0 0 0.5394 1002.47 975.37)" font-size="100">0</text>
</g>
</svg>
</body></html>
